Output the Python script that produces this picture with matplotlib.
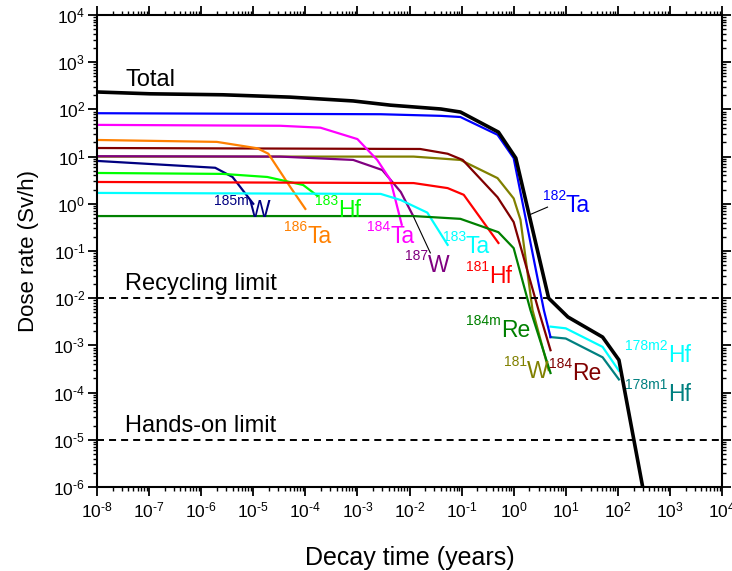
import matplotlib
matplotlib.use("Agg")
import matplotlib.pyplot as plt
import numpy as np
from matplotlib.ticker import LogLocator, NullFormatter, FuncFormatter

plt.rcParams.update({
    "font.family": ["Liberation Sans", "DejaVu Sans"],
    "mathtext.fontset": "custom",
    "mathtext.rm": "Liberation Sans",
    "mathtext.it": "Liberation Sans:italic",
    "mathtext.bf": "Liberation Sans:bold",
    "mathtext.default": "regular",
    "axes.unicode_minus": False,
})

# decay time (years) / dose rate (Sv/h)
total_t = [1e-8, 1.05e-7, 2.6e-6, 5.1e-5, 8.3e-4, 4.3e-3, 0.04, 0.095, 0.51, 1.1, 4.7, 11, 51, 105, 300]
total_d = [234, 214, 204, 182, 151, 123, 102, 88, 33, 9.3, 1.0e-2, 4.0e-3, 1.5e-3, 4.9e-4, 1e-6]

ta182_t = [1e-8, 2.8e-3, 0.04, 0.095, 0.49, 1.0, 3.8, 5.1]
ta182_d = [83, 79, 73, 69, 29, 9.3, 5.6e-3, 1.5e-3]

ta184_t = [1e-8, 3.3e-5, 1.95e-4, 1e-3, 2.4e-3, 4.3e-3, 7.1e-3]
ta184_d = [47, 45, 41, 23.5, 8.5, 3.2, 0.36]

ta186_t = [1e-8, 2.0e-6, 1.2e-5, 1.95e-5, 5.1e-5, 1e-4]
ta186_d = [22.5, 20.5, 15, 11.5, 2.3, 0.78]

re184_t = [1e-8, 0.016, 0.054, 0.105, 0.49, 1.0, 3.0, 5.1]
re184_d = [15.2, 14.5, 11.5, 8.5, 1.38, 0.41, 5.6e-3, 7.9e-4]

w181_t = [1e-8, 0.012, 0.095, 0.49, 1.0, 1.35, 2.3, 4.7]
w181_d = [10, 10, 8.5, 3.5, 1.3, 0.46, 5.6e-3, 3.0e-4]

w187_t = [1e-8, 3.3e-5, 8.3e-4, 3.0e-3, 6.8e-3, 0.0115]
w187_d = [10.2, 10, 8.5, 5.2, 1.78, 0.58]

w185m_t = [1e-8, 1.86e-6, 4.0e-6, 1e-5]
w185m_d = [8.1, 5.8, 3.7, 1.0]

hf183_t = [1e-8, 2.6e-6, 1.86e-5, 9.1e-5, 1.7e-4]
hf183_d = [4.5, 4.3, 3.7, 2.5, 1.48]

hf181_t = [1e-8, 0.012, 0.054, 0.11, 0.51]
hf181_d = [2.9, 2.75, 2.15, 1.55, 0.148]

ta183_t = [1e-8, 2.8e-3, 6.8e-3, 0.022, 0.054]
ta183_d = [1.7, 1.62, 1.2, 0.65, 0.135]

re184m_t = [1e-8, 0.012, 0.095, 0.51, 1.0, 2.1, 5.1]
re184m_d = [0.55, 0.55, 0.48, 0.25, 0.115, 5.6e-3, 2.6e-4]

hf178_t = [5.1, 10, 51, 105]
hf178m2_d = [2.5e-3, 2.3e-3, 9.3e-4, 2.9e-4]
hf178m1_d = [1.5e-3, 1.4e-3, 5.6e-4, 1.9e-4]

recycling_limit = 1e-2
hands_on_limit = 1e-5

fig = plt.figure(figsize=(7.32, 5.71), dpi=100)
ax = fig.add_axes([97 / 732, 1 - 487 / 571, 625 / 732, 472 / 571])

lw = 1.6
curves = [
    (w181_t, w181_d, "#808000"),
    (w187_t, w187_d, "#800080"),
    (re184_t, re184_d, "#800000"),
    (ta186_t, ta186_d, "#ff8000"),
    (ta184_t, ta184_d, "#ff00ff"),
    (w185m_t, w185m_d, "#000080"),
    (hf183_t, hf183_d, "#00ff00"),
    (hf181_t, hf181_d, "#ff0000"),
    (ta183_t, ta183_d, "#00ffff"),
    (re184m_t, re184m_d, "#008000"),
    (hf178_t, hf178m2_d, "#00ffff"),
    (hf178_t, hf178m1_d, "#008080"),
    (ta182_t, ta182_d, "#0000ff"),
]
for t, d, c in curves:
    ax.plot(t, d, color=c, lw=lw, solid_joinstyle="round")
ax.plot(total_t, total_d, color="black", lw=2.6, solid_joinstyle="round")

for lim in (recycling_limit, hands_on_limit):
    ax.axhline(lim, color="black", lw=1.4, ls=(0, (3.6, 2.6)))

ax.set_xscale("log")
ax.set_yscale("log")
ax.set_xlim(1e-8, 1e4)
ax.set_ylim(1e-6, 1e4)


def pow_fmt(v, pos):
    # plain hyphen in the exponent, as in the reference
    return r"$10^{\text{%d}}$" % int(round(np.log10(v)))


ax.xaxis.set_major_locator(LogLocator(base=10, numticks=20))
ax.yaxis.set_major_locator(LogLocator(base=10, numticks=20))
ax.xaxis.set_minor_locator(LogLocator(base=10, subs=range(2, 10), numticks=200))
ax.yaxis.set_minor_locator(LogLocator(base=10, subs=range(2, 10), numticks=200))
ax.xaxis.set_major_formatter(FuncFormatter(pow_fmt))
ax.yaxis.set_major_formatter(FuncFormatter(pow_fmt))
ax.xaxis.set_minor_formatter(NullFormatter())
ax.yaxis.set_minor_formatter(NullFormatter())
ax.tick_params(which="both", direction="out", top=True, right=True, labelsize=12.5)
ax.tick_params(which="major", length=6.5, width=1.3)
ax.tick_params(which="minor", length=3.2, width=1.0)
ax.tick_params(axis="x", pad=3)
ax.tick_params(axis="y", pad=2)
for s in ax.spines.values():
    s.set_linewidth(1.5)

ax.set_xlabel("Decay time (years)", fontsize=18, labelpad=19)
ax.set_ylabel("Dose rate (Sv/h)", fontsize=16, labelpad=10)


def iso_label(x, y, mass, elem, color):
    ax.annotate(mass, (x, y), xytext=(0, 8.6), textcoords="offset points",
                ha="right", va="baseline", fontsize=10, color=color)
    ax.text(x, y, elem, ha="left", va="baseline", fontsize=16.5, color=color)


iso_label(10 ** -5.08, 10 ** -0.28, "185m", "W", "#000080")
iso_label(10 ** -3.96, 10 ** -0.83, "186", "Ta", "#ff8000")
iso_label(10 ** -3.38, 10 ** -0.28, "183", "Hf", "#00ff00")
iso_label(10 ** -2.37, 10 ** -0.83, "184", "Ta", "#ff00ff")
iso_label(10 ** -1.65, 10 ** -1.44, "187", "W", "#800080")
iso_label(10 ** -0.92, 10 ** -1.04, "183", "Ta", "#00ffff")
iso_label(10 ** -0.48, 10 ** -1.68, "181", "Hf", "#ff0000")
iso_label(10 ** 1.0, 10 ** -0.17, "182", "Ta", "#0000ff")
iso_label(10 ** -0.25, 10 ** -2.82, "184m", "Re", "#008000")
iso_label(10 ** 0.25, 10 ** -3.69, "181", "W", "#808000")
iso_label(10 ** 1.13, 10 ** -3.73, "184", "Re", "#800000")
iso_label(10 ** 2.96, 10 ** -3.35, "178m2", "Hf", "#00ffff")
iso_label(10 ** 2.96, 10 ** -4.18, "178m1", "Hf", "#008080")

# leader lines
ax.plot([10 ** -1.92, 10 ** -1.60], [10 ** -0.28, 10 ** -1.04], color="black", lw=0.8)
ax.plot([10 ** 0.29, 10 ** 0.65], [10 ** -0.24, 10 ** -0.07], color="black", lw=0.8)

ax.text(10 ** -7.46, 10 ** 2.50, "Total", fontsize=17, ha="left", va="baseline")
ax.text(10 ** -7.46, 10 ** -1.83, "Recycling limit", fontsize=17, ha="left", va="baseline")
ax.text(10 ** -7.46, 10 ** -4.83, "Hands-on limit", fontsize=17, ha="left", va="baseline")

fig.savefig("out.png", dpi=100)
